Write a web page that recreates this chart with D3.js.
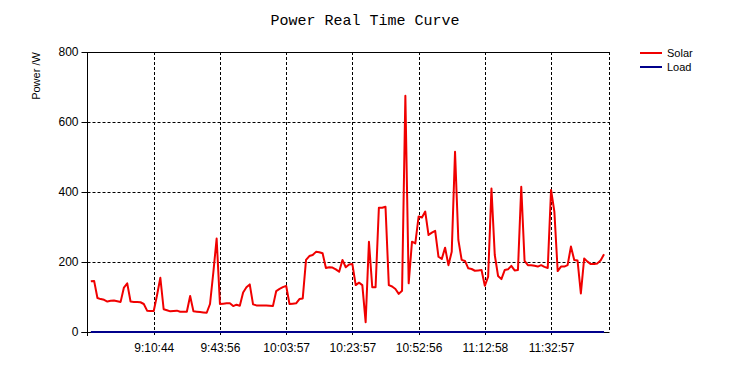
<!DOCTYPE html>
<html>
<head>
<meta charset="utf-8">
<script src="https://cdn.jsdelivr.net/npm/d3@7"></script>
<style>
  body { margin: 0; background: #fff; }
  svg { display: block; }
</style>
</head>
<body>
<script>
// Solar power, one reading per sample (index 1..156)
const solar = [
  145, 146, 97, 94, 92, 87, 89, 90, 88, 86,
  127, 139, 87, 86, 86, 85, 80, 61, 60, 60,
  105, 155, 65, 62, 59, 60, 61, 58, 58, 58,
  103, 59, 58, 57, 56, 55, 80, 170, 267, 80,
  81, 82, 82, 74, 78, 75, 113, 128, 136, 79,
  76, 76, 76, 76, 75, 74, 117, 123, 128, 132,
  80, 81, 82, 94, 96, 206, 217, 220, 229, 228,
  225, 183, 185, 184, 179, 172, 206, 185, 193, 194,
  134, 141, 134, 28, 258, 128, 128, 355, 355, 358,
  134, 130, 123, 109, 118, 675, 139, 258, 253, 330,
  327, 344, 277, 284, 289, 215, 209, 241, 191, 229,
  515, 263, 206, 203, 182, 180, 175, 176, 177, 132,
  158, 410, 220, 160, 151, 177, 179, 189, 176, 177,
  415, 203, 191, 191, 189, 187, 191, 186, 183, 406,
  344, 174, 187, 187, 191, 244, 206, 204, 110, 210,
  201, 194, 194, 196, 205, 222
];

// Load power, same samples
const load = [
  0, 0, 0, 0, 0, 0, 0, 0, 0, 0, 0, 0, 0, 0, 0, 0, 0, 0, 0, 0,
  0, 0, 0, 0, 0, 0, 0, 0, 0, 0, 0, 0, 0, 0, 0, 0, 0, 0, 0, 0,
  0, 0, 0, 0, 0, 0, 0, 0, 0, 0, 0, 0, 0, 0, 0, 0, 0, 0, 0, 0,
  0, 0, 0, 0, 0, 0, 0, 0, 0, 0, 0, 0, 0, 0, 0, 0, 0, 0, 0, 0,
  0, 0, 0, 0, 0, 0, 0, 0, 0, 0, 0, 0, 0, 0, 0, 0, 0, 0, 0, 0,
  0, 0, 0, 0, 0, 0, 0, 0, 0, 0, 0, 0, 0, 0, 0, 0, 0, 0, 0, 0,
  0, 0, 0, 0, 0, 0, 0, 0, 0, 0, 0, 0, 0, 0, 0, 0, 0, 0, 0, 0,
  0, 0, 0, 0, 0, 0, 0, 0, 0, 0, 0, 0, 0, 0, 0, 0
];

// x axis labels shown every 20 samples
const tickIndex = [20, 40, 60, 80, 100, 120, 140];
const tickLabels = ["9:10:44", "9:43:56", "10:03:57", "10:23:57", "10:52:56", "11:12:58", "11:32:57"];
const yTicks = [0, 200, 400, 600, 800];

const seriesNames = ["Solar", "Load"];
const seriesColors = ["#f00000", "#00008b"];

var W = 730, H = 374;
var plotLeft = 87.5, plotRight = 609, plotTop = 52, plotBottom = 332;

var svg = d3.select("body").append("svg")
  .attr("width", W)
  .attr("height", H);

var x = d3.scaleLinear().domain([0, 157.5]).range([plotLeft, plotRight]);
var y = d3.scaleLinear().domain([0, 800]).range([plotBottom, plotTop]);

// title
svg.append("text")
  .attr("x", 365).attr("y", 25)
  .attr("text-anchor", "middle")
  .style("font-family", "'Liberation Mono', 'DejaVu Sans Mono', monospace")
  .style("font-size", "15px")
  .text("Power Real Time Curve");

// grid: horizontal dashed
svg.append("g")
  .selectAll("line")
  .data(yTicks.filter(d => d > 0 && d < 800))
  .join("line")
  .attr("x1", plotLeft).attr("x2", plotRight)
  .attr("y1", d => Math.round(y(d)) + 0.5).attr("y2", d => Math.round(y(d)) + 0.5)
  .attr("stroke", "#000").attr("stroke-dasharray", "3,2");

// grid: vertical dashed (runs a little past the bottom axis as the tick)
svg.append("g")
  .selectAll("line")
  .data(tickIndex)
  .join("line")
  .attr("x1", d => Math.round(x(d)) + 0.5).attr("x2", d => Math.round(x(d)) + 0.5)
  .attr("y1", plotTop).attr("y2", plotBottom + 5)
  .attr("stroke", "#000").attr("stroke-dasharray", "3,2");

// right border dashed
svg.append("line")
  .attr("x1", plotRight + 0.5).attr("x2", plotRight + 0.5)
  .attr("y1", plotTop).attr("y2", plotBottom)
  .attr("stroke", "#000").attr("stroke-dasharray", "3,2");

// y axis
var yAxis = d3.axisLeft(y).tickValues(yTicks).tickSize(6).tickPadding(3);
var gy = svg.append("g")
  .attr("transform", "translate(" + plotLeft + ",0)")
  .call(yAxis);
gy.select(".domain").attr("d", "M0," + plotTop + "V" + (plotBottom + 4));
gy.selectAll("text")
  .style("font-family", "'Liberation Sans', Arial, sans-serif")
  .style("font-size", "12px")
  .attr("fill", "#000");

// x axis (labels only; tick marks are the dashed grid)
var xAxis = d3.axisBottom(x).tickValues(tickIndex)
  .tickFormat((d, i) => tickLabels[i]).tickSize(0).tickPadding(11);
var gx = svg.append("g")
  .attr("transform", "translate(0," + plotBottom + ")")
  .call(xAxis);
gx.select(".domain").remove();
gx.selectAll("text")
  .style("font-family", "'Liberation Sans', Arial, sans-serif")
  .style("font-size", "12px")
  .attr("fill", "#000");

// top and bottom solid borders
svg.append("line")
  .attr("x1", plotLeft).attr("x2", plotRight + 0.5)
  .attr("y1", plotTop + 0.5).attr("y2", plotTop + 0.5)
  .attr("stroke", "#000");
svg.append("line")
  .attr("x1", plotLeft - 6).attr("x2", plotRight + 0.5)
  .attr("y1", plotBottom + 0.5).attr("y2", plotBottom + 0.5)
  .attr("stroke", "#000");

// y axis title
svg.append("text")
  .attr("transform", "translate(40,76) rotate(-90)")
  .attr("text-anchor", "middle")
  .style("font-family", "'Liberation Sans', Arial, sans-serif")
  .style("font-size", "11px")
  .text("Power /W");

// series
var line = d3.line()
  .x((d, i) => x(i + 1))
  .y(d => y(d));

svg.append("path")
  .datum(load)
  .attr("fill", "none")
  .attr("stroke", seriesColors[1])
  .attr("stroke-width", 2)
  .attr("d", line);

svg.append("path")
  .datum(solar)
  .attr("fill", "none")
  .attr("stroke", seriesColors[0])
  .attr("stroke-width", 2)
  .attr("stroke-linejoin", "round")
  .attr("d", line);

// legend
var lg = svg.append("g").attr("transform", "translate(640,53)");
seriesNames.forEach(function(name, i) {
  lg.append("line")
    .attr("x1", 0).attr("x2", 22)
    .attr("y1", i * 14).attr("y2", i * 14)
    .attr("stroke", seriesColors[i]).attr("stroke-width", 2);
  lg.append("text")
    .attr("x", 27).attr("y", i * 14 + 4)
    .style("font-family", "'Liberation Sans', Arial, sans-serif")
    .style("font-size", "11px")
    .text(name);
});
</script>
</body>
</html>
